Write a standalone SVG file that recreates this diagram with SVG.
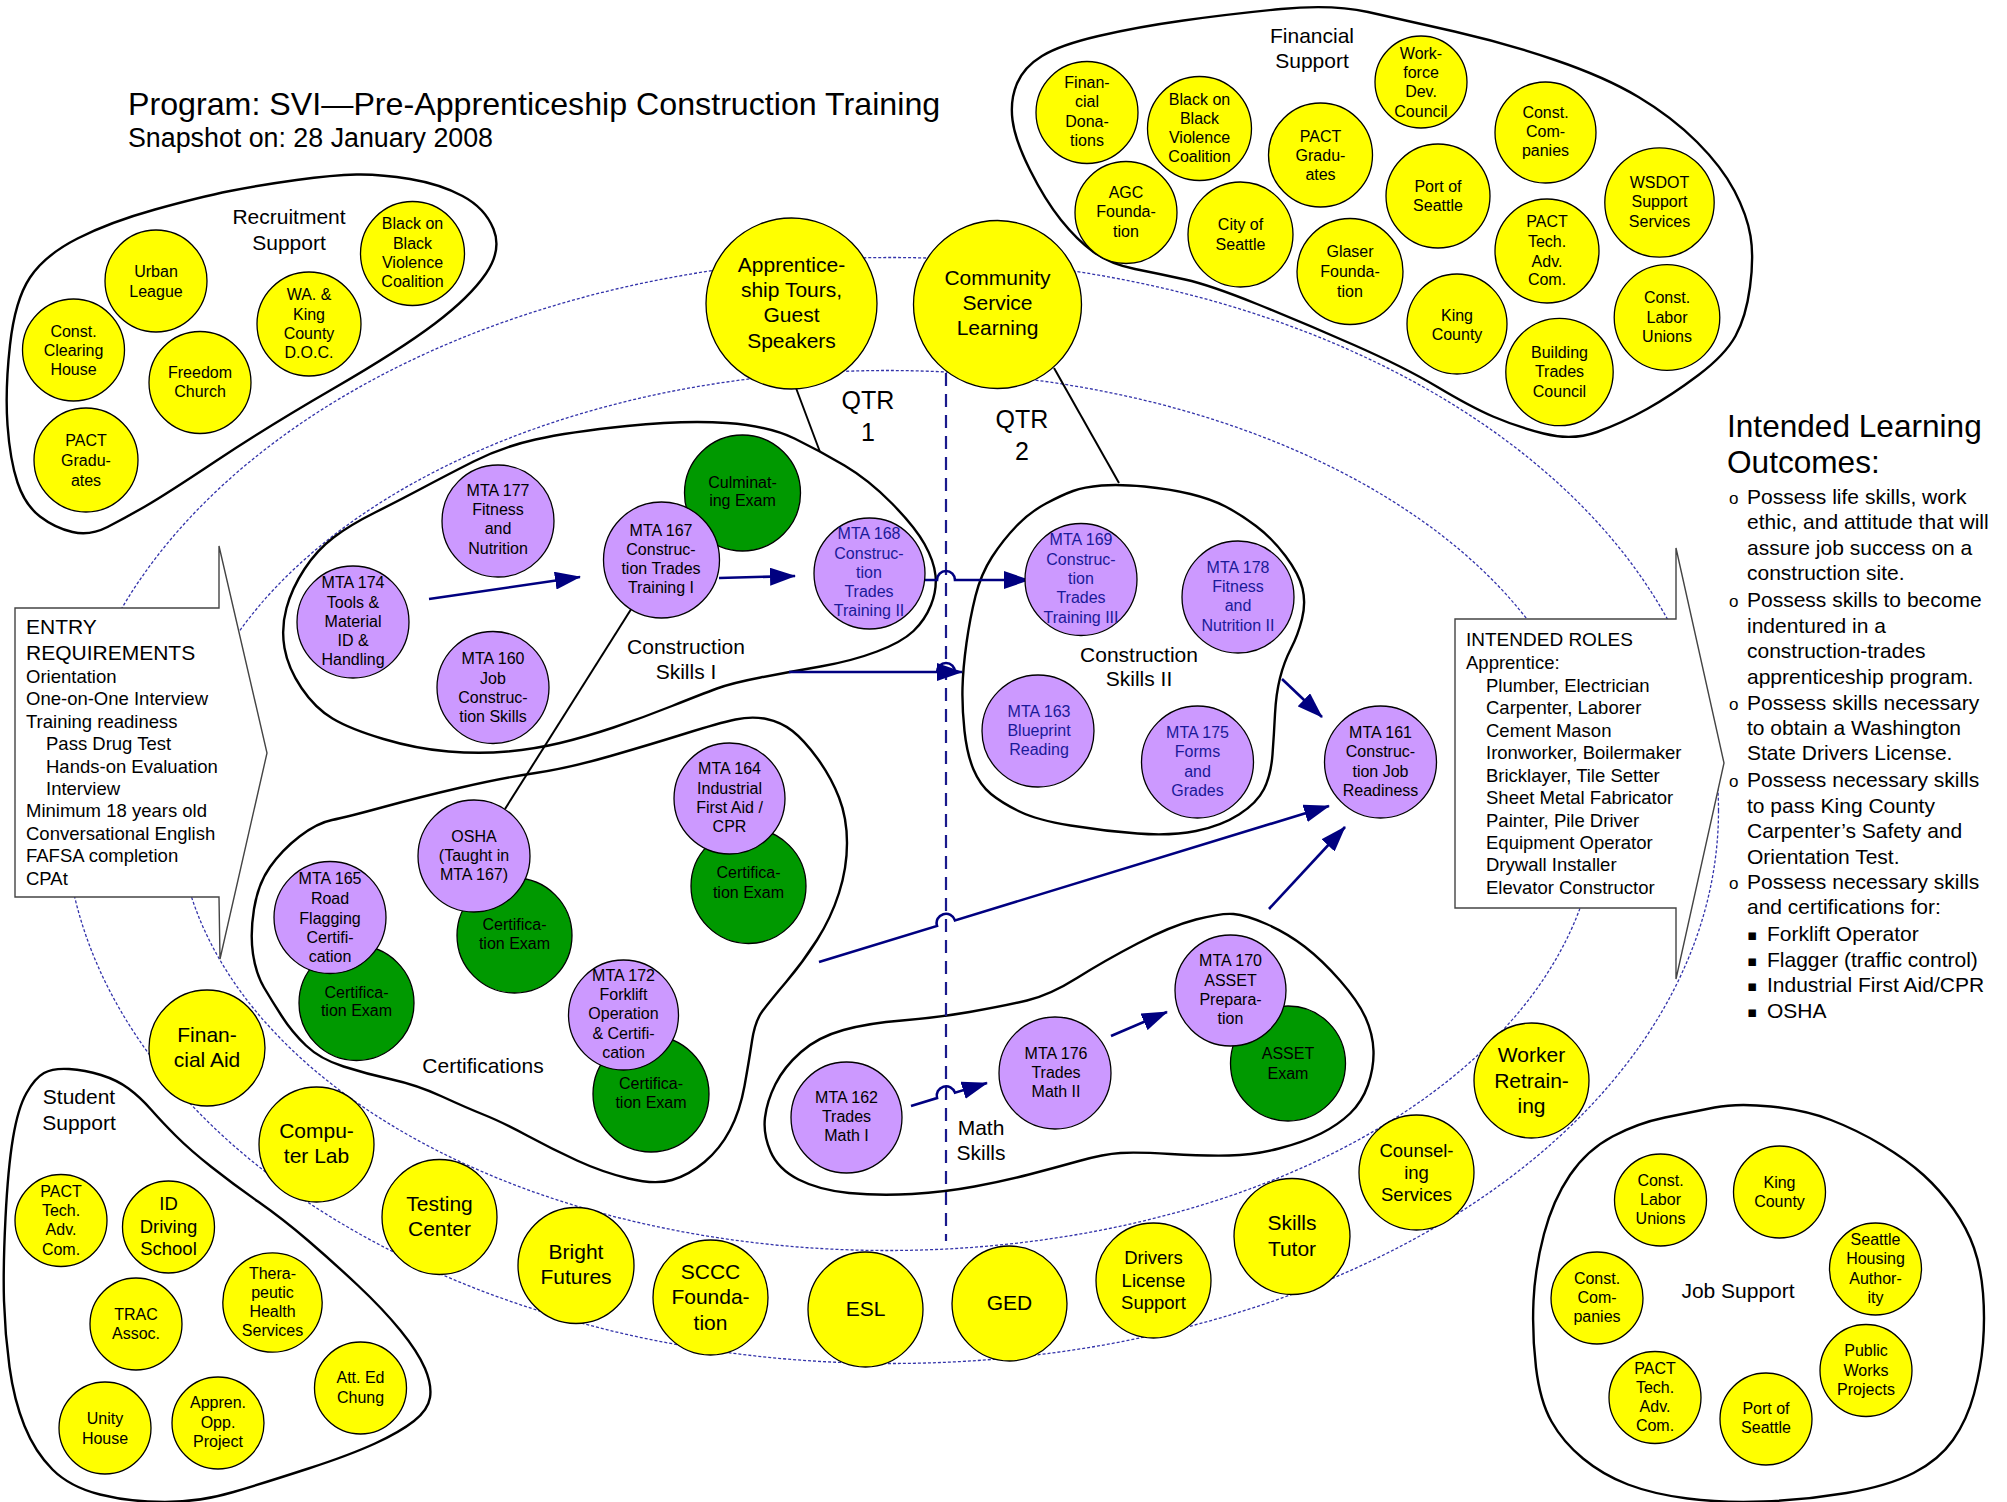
<svg xmlns="http://www.w3.org/2000/svg" width="2007" height="1502" viewBox="0 0 2007 1502">
<defs>
<style>
.yc{fill:#ffff00;stroke:#000;stroke-width:1.3}
.pc{fill:#cc99ff;stroke:#000;stroke-width:1.3}
.gc{fill:#009900;stroke:#000;stroke-width:1.3}
.blob{fill:none;stroke:#000;stroke-width:2.4}
.ell{fill:none;stroke:#3333aa;stroke-width:1.3;stroke-dasharray:3 2}
.arr{fill:none;stroke:#000080;stroke-width:2.6;marker-end:url(#ah)}
.ln{fill:none;stroke:#000;stroke-width:2}
.call{fill:#fff;stroke:#444;stroke-width:1.4}
text{font-family:"Liberation Sans",Arial,sans-serif;fill:#000}
.s{font-size:16px;text-anchor:middle}
.m{font-size:21px;text-anchor:middle}
.m2{font-size:18.5px;text-anchor:middle}
.b{fill:#1a1a99}
.lt{font-size:18.5px}
.ot{font-size:21px}
</style>
<marker id="ah" markerUnits="userSpaceOnUse" markerWidth="26" markerHeight="18" refX="25" refY="9" orient="auto"><path d="M0,0 L26,9 L0,18 Z" fill="#000080"/></marker>
</defs>
<rect width="2007" height="1502" fill="#fff"/>

<g id="title">
<text x="128" y="115" style="font-size:32.2px">Program: SVI—Pre-Apprenticeship Construction Training</text>
<text x="128" y="147" style="font-size:26.8px">Snapshot on: 28 January 2008</text>
</g>

<g id="rings">
<ellipse class="ell" cx="891.5" cy="810.5" rx="827" ry="553"/>
<ellipse class="ell" cx="887.7" cy="810.5" rx="710" ry="440"/>
</g>

<g id="blobs">
<path id="blob-recruit" class="blob" d="M30,277.5 Q15,300 10,345 Q5,390 7.5,425 Q10,460 17.5,482.5 Q25,505 40,516.5 Q55,528 72.5,532 Q90,536 107.5,527 Q125,518 145,506.5 Q165,495 216,461 Q267,427 333.5,388.5 Q400,350 435,323.5 Q470,297 486,273.5 Q502,250 493.5,229 Q485,208 462.5,196 Q440,184 410,179 Q380,174 356.5,174.5 Q333,175 296.5,180 Q260,185 230,191 Q200,197 155,209.5 Q110,222 77.5,238.5 Q45,255 30,277.5 Z"/>
<path id="blob-financial" class="blob" d="M1368,12 Q1332,4 1281,9 Q1230,14 1183.5,20.5 Q1137,27 1098.5,36 Q1060,45 1042,56 Q1024,67 1017,83.5 Q1010,100 1012.5,120 Q1015,140 1030,170 Q1045,200 1061,220 Q1077,240 1093.5,252 Q1110,264 1135,269 Q1160,274 1185,279.5 Q1210,285 1257,304 Q1304,323 1354,345 Q1404,367 1437.5,387 Q1471,407 1493,416.5 Q1515,426 1543.5,433.5 Q1572,441 1597,432 Q1622,423 1647,409 Q1672,395 1698.5,375 Q1725,355 1735.5,336 Q1746,317 1750,287 Q1754,257 1750.5,236 Q1747,215 1734.5,191 Q1722,167 1697,142 Q1672,117 1638.5,97 Q1605,77 1555,60 Q1505,43 1454.5,31.5 Q1404,20 1368,12 Z"/>
<path id="blob-cs1" class="blob" d="M473.5,461.5 Q502,447 535.5,439.5 Q569,432 627,426 Q685,420 727,423 Q769,426 794.5,438.5 Q820,451 844.5,465.5 Q869,480 892,503.5 Q915,527 924.5,544 Q934,561 935.5,575.5 Q937,590 931,605 Q925,620 913.5,631 Q902,642 877,651.5 Q852,661 820.5,666.5 Q789,672 760.5,677.5 Q732,683 717,688.5 Q702,694 672,706 Q642,718 613.5,727.5 Q585,737 560,743 Q535,749 507.5,751.5 Q480,754 448.5,751.5 Q417,749 383.5,739 Q350,729 332.5,718.5 Q315,708 301.5,688 Q288,668 284.5,648 Q281,628 286.5,608 Q292,588 304.5,569 Q317,550 333.5,537.5 Q350,525 375,512.5 Q400,500 422.5,488 Q445,476 473.5,461.5 Z"/>
<path id="blob-cs2" class="blob" d="M1073,491 Q1084,487 1101.5,485.5 Q1119,484 1144.5,486.5 Q1170,489 1190.5,494 Q1211,499 1225.5,506.5 Q1240,514 1256,526 Q1272,538 1285.5,556 Q1299,574 1302.5,588.5 Q1306,603 1302,619 Q1298,635 1291,648.5 Q1284,662 1280,678 Q1276,694 1275,714 Q1274,734 1272.5,754.5 Q1271,775 1264,789 Q1257,803 1239,814.5 Q1221,826 1196,831 Q1171,836 1137.5,833.5 Q1104,831 1070.5,825.5 Q1037,820 1019.5,811.5 Q1002,803 991,794 Q980,785 973.5,769.5 Q967,754 964.5,731 Q962,708 962.5,688 Q963,668 966.5,643 Q970,618 975.5,596 Q981,574 992,557 Q1003,540 1016.5,526 Q1030,512 1046,503.5 Q1062,495 1073,491 Z"/>
<path id="blob-cert" class="blob" d="M461,787.5 Q502,778 535.5,773 Q569,768 610.5,756 Q652,744 685.5,733.5 Q719,723 735.5,719.5 Q752,716 766.5,719 Q781,722 792.5,731 Q804,740 817.5,758.5 Q831,777 839,797.5 Q847,818 847,843 Q847,868 839,893 Q831,918 817,940 Q803,962 786.5,981.5 Q770,1001 762.5,1011 Q755,1021 752,1041 Q749,1061 744.5,1086 Q740,1111 730,1130 Q720,1149 704.5,1162 Q689,1175 672,1180 Q655,1185 628.5,1178.5 Q602,1172 577,1160.5 Q552,1149 527,1135.5 Q502,1122 484.5,1115 Q467,1108 442,1096.5 Q417,1085 392,1079.5 Q367,1074 343.5,1066.5 Q320,1059 306,1045.5 Q292,1032 282,1016.5 Q272,1001 264,987.5 Q256,974 253,954 Q250,934 254,909 Q258,884 270,867 Q282,850 299.5,836.5 Q317,823 332,820 Q347,817 383.5,807 Q420,797 461,787.5 Z"/>
<path id="blob-math" class="blob" d="M969.5,1012 Q1004,1006 1027,1000.5 Q1050,995 1077,978 Q1104,961 1137.5,943.5 Q1171,926 1196,919.5 Q1221,913 1233.5,914 Q1246,915 1266.5,924 Q1287,933 1304.5,946.5 Q1322,960 1340,980.5 Q1358,1001 1365.5,1017.5 Q1373,1034 1373.5,1051 Q1374,1068 1368,1085 Q1362,1102 1350,1113.5 Q1338,1125 1321,1133.5 Q1304,1142 1279,1148.5 Q1254,1155 1229,1155.5 Q1204,1156 1170.5,1154 Q1137,1152 1120.5,1153 Q1104,1154 1079,1161 Q1054,1168 1029,1174.5 Q1004,1181 974.5,1186.5 Q945,1192 912,1194 Q879,1196 849,1193 Q819,1190 798.5,1179.5 Q778,1169 770.5,1151.5 Q763,1134 765,1117.5 Q767,1101 775.5,1084 Q784,1067 801,1052 Q818,1037 843.5,1030 Q869,1023 902,1020.5 Q935,1018 969.5,1012 Z"/>
<path id="blob-student" class="blob" d="M26.5,1093 Q35,1078 44,1073 Q53,1068 69,1069 Q85,1070 101,1075 Q117,1080 128.5,1088.5 Q140,1097 151,1109.5 Q162,1122 176,1136 Q190,1150 211.5,1167 Q233,1184 258,1201.5 Q283,1219 308,1240.5 Q333,1262 358,1285.5 Q383,1309 400.5,1330.5 Q418,1352 425,1368.5 Q432,1385 430,1397.5 Q428,1410 414,1421 Q400,1432 375,1443.5 Q350,1455 308.5,1468.5 Q267,1482 233.5,1492 Q200,1502 165,1502 Q130,1502 100,1494.5 Q70,1487 52.5,1469.5 Q35,1452 24.5,1426 Q14,1400 9.5,1367 Q5,1334 4,1301 Q3,1268 5.5,1218 Q8,1168 13,1138 Q18,1108 26.5,1093 Z"/>
<path id="blob-job" class="blob" d="M1714.5,1107.5 Q1737,1103 1771,1106.5 Q1805,1110 1831,1120 Q1857,1130 1882,1145 Q1907,1160 1923.5,1175 Q1940,1190 1953.5,1209 Q1967,1228 1974,1248 Q1981,1268 1983,1293 Q1985,1318 1983,1343 Q1981,1368 1974,1394 Q1967,1420 1953,1440 Q1939,1460 1913.5,1473 Q1888,1486 1846.5,1493 Q1805,1500 1763.5,1501.5 Q1722,1503 1687.5,1498.5 Q1653,1494 1628,1484.5 Q1603,1475 1583,1458.5 Q1563,1442 1551.5,1421.5 Q1540,1401 1536,1367.5 Q1532,1334 1533.5,1301 Q1535,1268 1544,1234 Q1553,1200 1570,1175 Q1587,1150 1612.5,1136.5 Q1638,1123 1665,1117.5 Q1692,1112 1714.5,1107.5 Z"/>
</g>

<g id="connectors">
<path id="qtr-divider" d="M946,373 L946,1241" fill="none" stroke="#1a1a8c" stroke-width="2.2" stroke-dasharray="13 8"/>
<path class="ln" d="M796,388 L820,452"/>
<path class="ln" d="M1054,368 L1119,483"/>
<path class="ln" d="M635,603 L505,809"/>
<path class="arr" d="M429,599 L580,577"/>
<path class="arr" d="M719,578 L795,576"/>
<path class="arr" d="M917,580 L937,580 A9,9 0 0 1 955,580 L1029,580"/>
<path class="arr" d="M789,672 L937,672 A9,9 0 0 1 955,672 L962,672"/>
<path class="arr" d="M1282,679 L1322,717"/>
<path class="arr" d="M819,962 L937,925.9 A9.4,9.4 0 0 1 955,920.4 L1329,806"/>
<path class="arr" d="M1269,909 L1345,827"/>
<path class="arr" d="M911,1106 L937,1098.1 A9.4,9.4 0 0 1 955,1092.7 L987,1083"/>
<path class="arr" d="M1111,1036 L1167,1012"/>
</g>

<g id="labels">
<text class="m"><tspan x="289" y="224">Recruitment</tspan><tspan x="289" y="250">Support</tspan></text>
<text class="m"><tspan x="1312" y="43">Financial</tspan><tspan x="1312" y="68">Support</tspan></text>
<text class="m"><tspan x="79" y="1104">Student</tspan><tspan x="79" y="1130">Support</tspan></text>
<text class="m" x="1738" y="1298">Job Support</text>
<text class="m"><tspan x="686" y="654">Construction</tspan><tspan x="686" y="679">Skills I</tspan></text>
<text class="m"><tspan x="1139" y="662">Construction</tspan><tspan x="1139" y="686">Skills II</tspan></text>
<text class="m" x="483" y="1073">Certifications</text>
<text class="m"><tspan x="981" y="1135">Math</tspan><tspan x="981" y="1160">Skills</tspan></text>
<text class="m" style="font-size:25px"><tspan x="868" y="409">QTR</tspan><tspan x="868" y="441">1</tspan></text>
<text class="m" style="font-size:25px"><tspan x="1022" y="428">QTR</tspan><tspan x="1022" y="460">2</tspan></text>
</g>

<g id="recruitment-nodes">
<g id="r-urban"><circle class="yc" cx="156" cy="281" r="51"/><text class="s"><tspan x="156" y="277">Urban</tspan><tspan x="156" y="297">League</tspan></text></g>
<g id="r-cch"><circle class="yc" cx="73.5" cy="350" r="51"/><text class="s"><tspan x="73.5" y="337">Const.</tspan><tspan x="73.5" y="356">Clearing</tspan><tspan x="73.5" y="375">House</tspan></text></g>
<g id="r-freedom"><circle class="yc" cx="200" cy="382.5" r="51"/><text class="s"><tspan x="200" y="378">Freedom</tspan><tspan x="200" y="397">Church</tspan></text></g>
<g id="r-doc"><circle class="yc" cx="309" cy="324" r="52"/><text class="s"><tspan x="309" y="300">WA. &amp;</tspan><tspan x="309" y="320">King</tspan><tspan x="309" y="339">County</tspan><tspan x="309" y="358">D.O.C.</tspan></text></g>
<g id="r-bobvc"><circle class="yc" cx="412.5" cy="253.5" r="52"/><text class="s"><tspan x="412.5" y="229">Black on</tspan><tspan x="412.5" y="249">Black</tspan><tspan x="412.5" y="268">Violence</tspan><tspan x="412.5" y="287">Coalition</tspan></text></g>
<g id="r-pact"><circle class="yc" cx="86" cy="460" r="52"/><text class="s"><tspan x="86" y="446">PACT</tspan><tspan x="86" y="466">Gradu-</tspan><tspan x="86" y="486">ates</tspan></text></g>
</g>

<g id="financial-nodes">
<g id="f-donations"><circle class="yc" cx="1087" cy="112.5" r="51"/><text class="s"><tspan x="1087" y="88">Finan-</tspan><tspan x="1087" y="107">cial</tspan><tspan x="1087" y="127">Dona-</tspan><tspan x="1087" y="146">tions</tspan></text></g>
<g id="f-bobvc"><circle class="yc" cx="1199.5" cy="128.5" r="52"/><text class="s"><tspan x="1199.5" y="105">Black on</tspan><tspan x="1199.5" y="124">Black</tspan><tspan x="1199.5" y="143">Violence</tspan><tspan x="1199.5" y="162">Coalition</tspan></text></g>
<g id="f-agc"><circle class="yc" cx="1126" cy="212.5" r="51"/><text class="s"><tspan x="1126" y="198">AGC</tspan><tspan x="1126" y="217">Founda-</tspan><tspan x="1126" y="237">tion</tspan></text></g>
<g id="f-city"><circle class="yc" cx="1240.5" cy="234.5" r="52.5"/><text class="s"><tspan x="1240.5" y="230">City of</tspan><tspan x="1240.5" y="250">Seattle</tspan></text></g>
<g id="f-pact"><circle class="yc" cx="1320.5" cy="155" r="52"/><text class="s"><tspan x="1320.5" y="142">PACT</tspan><tspan x="1320.5" y="161">Gradu-</tspan><tspan x="1320.5" y="180">ates</tspan></text></g>
<g id="f-glaser"><circle class="yc" cx="1350" cy="271.5" r="53"/><text class="s"><tspan x="1350" y="257">Glaser</tspan><tspan x="1350" y="277">Founda-</tspan><tspan x="1350" y="297">tion</tspan></text></g>
<g id="f-wdc"><circle class="yc" cx="1421" cy="82" r="46"/><text class="s"><tspan x="1421" y="59">Work-</tspan><tspan x="1421" y="78">force</tspan><tspan x="1421" y="97">Dev.</tspan><tspan x="1421" y="117">Council</tspan></text></g>
<g id="f-port"><circle class="yc" cx="1438" cy="196" r="52"/><text class="s"><tspan x="1438" y="192">Port of</tspan><tspan x="1438" y="211">Seattle</tspan></text></g>
<g id="f-king"><circle class="yc" cx="1457" cy="324" r="50"/><text class="s"><tspan x="1457" y="321">King</tspan><tspan x="1457" y="340">County</tspan></text></g>
<g id="f-constco"><circle class="yc" cx="1545.5" cy="132.5" r="50.5"/><text class="s"><tspan x="1545.5" y="118">Const.</tspan><tspan x="1545.5" y="137">Com-</tspan><tspan x="1545.5" y="156">panies</tspan></text></g>
<g id="f-pacttac"><circle class="yc" cx="1547" cy="251" r="52"/><text class="s"><tspan x="1547" y="227">PACT</tspan><tspan x="1547" y="247">Tech.</tspan><tspan x="1547" y="267">Adv.</tspan><tspan x="1547" y="285">Com.</tspan></text></g>
<g id="f-btc"><circle class="yc" cx="1559.5" cy="372" r="53.7"/><text class="s"><tspan x="1559.5" y="358">Building</tspan><tspan x="1559.5" y="377">Trades</tspan><tspan x="1559.5" y="397">Council</tspan></text></g>
<g id="f-wsdot"><circle class="yc" cx="1659.5" cy="202.5" r="54.7"/><text class="s"><tspan x="1659.5" y="188">WSDOT</tspan><tspan x="1659.5" y="207">Support</tspan><tspan x="1659.5" y="227">Services</tspan></text></g>
<g id="f-labor"><circle class="yc" cx="1667" cy="317.5" r="52.8"/><text class="s"><tspan x="1667" y="303">Const.</tspan><tspan x="1667" y="323">Labor</tspan><tspan x="1667" y="342">Unions</tspan></text></g>
</g>

<g id="ring-nodes">
<g id="y-tours"><circle class="yc" cx="791.5" cy="303.5" r="85.5"/><text class="m"><tspan x="791.5" y="272">Apprentice-</tspan><tspan x="791.5" y="297">ship Tours,</tspan><tspan x="791.5" y="322">Guest</tspan><tspan x="791.5" y="348">Speakers</tspan></text></g>
<g id="y-csl"><circle class="yc" cx="997.5" cy="304.5" r="84"/><text class="m"><tspan x="997.5" y="285">Community</tspan><tspan x="997.5" y="310">Service</tspan><tspan x="997.5" y="335">Learning</tspan></text></g>
<g id="y-finaid"><circle class="yc" cx="207" cy="1048" r="58"/><text class="m"><tspan x="207" y="1042">Finan-</tspan><tspan x="207" y="1067">cial Aid</tspan></text></g>
<g id="y-complab"><circle class="yc" cx="316.5" cy="1144.5" r="57.5"/><text class="m"><tspan x="316.5" y="1138">Compu-</tspan><tspan x="316.5" y="1163">ter Lab</tspan></text></g>
<g id="y-testing"><circle class="yc" cx="439.5" cy="1217" r="57.5"/><text class="m"><tspan x="439.5" y="1211">Testing</tspan><tspan x="439.5" y="1236">Center</tspan></text></g>
<g id="y-bright"><circle class="yc" cx="576" cy="1265.5" r="58"/><text class="m"><tspan x="576" y="1259">Bright</tspan><tspan x="576" y="1284">Futures</tspan></text></g>
<g id="y-sccc"><circle class="yc" cx="710.5" cy="1297.5" r="57.5"/><text class="m"><tspan x="710.5" y="1279">SCCC</tspan><tspan x="710.5" y="1304">Founda-</tspan><tspan x="710.5" y="1330">tion</tspan></text></g>
<g id="y-esl"><circle class="yc" cx="865.5" cy="1309.5" r="57.5"/><text class="m" x="865.5" y="1316">ESL</text></g>
<g id="y-ged"><circle class="yc" cx="1009.5" cy="1303.5" r="57.5"/><text class="m" x="1009.5" y="1310">GED</text></g>
<g id="y-drivers"><circle class="yc" cx="1153.5" cy="1280.5" r="57.5"/><text class="m2"><tspan x="1153.5" y="1264">Drivers</tspan><tspan x="1153.5" y="1287">License</tspan><tspan x="1153.5" y="1309">Support</tspan></text></g>
<g id="y-skills"><circle class="yc" cx="1292" cy="1236.5" r="58"/><text class="m"><tspan x="1292" y="1230">Skills</tspan><tspan x="1292" y="1256">Tutor</tspan></text></g>
<g id="y-counsel"><circle class="yc" cx="1416.5" cy="1172.5" r="57.5"/><text class="m2"><tspan x="1416.5" y="1157">Counsel-</tspan><tspan x="1416.5" y="1179">ing</tspan><tspan x="1416.5" y="1201">Services</tspan></text></g>
<g id="y-worker"><circle class="yc" cx="1531.5" cy="1080.5" r="57.5"/><text class="m"><tspan x="1531.5" y="1062">Worker</tspan><tspan x="1531.5" y="1088">Retrain-</tspan><tspan x="1531.5" y="1113">ing</tspan></text></g>
</g>

<g id="course-nodes">
<g id="g-culm"><circle class="gc" cx="742.5" cy="493" r="58"/><text class="s"><tspan x="742.5" y="488">Culminat-</tspan><tspan x="742.5" y="506">ing Exam</tspan></text></g>
<g id="p-177"><circle class="pc" cx="498" cy="521" r="56"/><text class="s"><tspan x="498" y="496">MTA 177</tspan><tspan x="498" y="515">Fitness</tspan><tspan x="498" y="534">and</tspan><tspan x="498" y="554">Nutrition</tspan></text></g>
<g id="p-174"><circle class="pc" cx="353" cy="622" r="56"/><text class="s"><tspan x="353" y="588">MTA 174</tspan><tspan x="353" y="608">Tools &amp;</tspan><tspan x="353" y="627">Material</tspan><tspan x="353" y="646">ID &amp;</tspan><tspan x="353" y="665">Handling</tspan></text></g>
<g id="p-160"><circle class="pc" cx="493" cy="687.5" r="56"/><text class="s"><tspan x="493" y="664">MTA 160</tspan><tspan x="493" y="684">Job</tspan><tspan x="493" y="703">Construc-</tspan><tspan x="493" y="722">tion Skills</tspan></text></g>
<g id="p-167"><circle class="pc" cx="661.5" cy="560" r="58"/><text class="s"><tspan x="661" y="536">MTA 167</tspan><tspan x="661" y="555">Construc-</tspan><tspan x="661" y="574">tion Trades</tspan><tspan x="661" y="593">Training I</tspan></text></g>
<g id="p-168"><circle class="pc" cx="869.5" cy="573.5" r="55.5"/><text class="s b"><tspan x="869" y="539">MTA 168</tspan><tspan x="869" y="558.5">Construc-</tspan><tspan x="869" y="578">tion</tspan><tspan x="869" y="597">Trades</tspan><tspan x="869" y="616">Training II</tspan></text></g>
<g id="p-169"><circle class="pc" cx="1081" cy="579.5" r="56"/><text class="s b"><tspan x="1081" y="545">MTA 169</tspan><tspan x="1081" y="565">Construc-</tspan><tspan x="1081" y="584">tion</tspan><tspan x="1081" y="603">Trades</tspan><tspan x="1081" y="623">Training III</tspan></text></g>
<g id="p-178"><circle class="pc" cx="1238" cy="597" r="56"/><text class="s b"><tspan x="1238" y="573">MTA 178</tspan><tspan x="1238" y="592">Fitness</tspan><tspan x="1238" y="611">and</tspan><tspan x="1238" y="631">Nutrition II</tspan></text></g>
<g id="p-163"><circle class="pc" cx="1038" cy="731" r="56"/><text class="s b"><tspan x="1039" y="717">MTA 163</tspan><tspan x="1039" y="736">Blueprint</tspan><tspan x="1039" y="755">Reading</tspan></text></g>
<g id="p-175"><circle class="pc" cx="1197.5" cy="762" r="56"/><text class="s b"><tspan x="1197.5" y="738">MTA 175</tspan><tspan x="1197.5" y="757">Forms</tspan><tspan x="1197.5" y="777">and</tspan><tspan x="1197.5" y="796">Grades</tspan></text></g>
<g id="p-161"><circle class="pc" cx="1380.5" cy="762" r="56"/><text class="s"><tspan x="1380.5" y="738">MTA 161</tspan><tspan x="1380.5" y="757">Construc-</tspan><tspan x="1380.5" y="777">tion Job</tspan><tspan x="1380.5" y="796">Readiness</tspan></text></g>
<g id="g-osha"><circle class="gc" cx="514.5" cy="935.5" r="57.5"/><text class="s"><tspan x="514.5" y="930">Certifica-</tspan><tspan x="514.5" y="949">tion Exam</tspan></text></g>
<g id="p-osha"><circle class="pc" cx="474" cy="856" r="56"/><text class="s"><tspan x="474" y="842">OSHA</tspan><tspan x="474" y="861">(Taught in</tspan><tspan x="474" y="880">MTA 167)</tspan></text></g>
<g id="g-165"><circle class="gc" cx="356.5" cy="1003" r="57.5"/><text class="s"><tspan x="356.5" y="998">Certifica-</tspan><tspan x="356.5" y="1016">tion Exam</tspan></text></g>
<g id="p-165"><circle class="pc" cx="330" cy="917.5" r="56"/><text class="s"><tspan x="330" y="884">MTA 165</tspan><tspan x="330" y="904">Road</tspan><tspan x="330" y="924">Flagging</tspan><tspan x="330" y="943">Certifi-</tspan><tspan x="330" y="962">cation</tspan></text></g>
<g id="g-164"><circle class="gc" cx="748.5" cy="886" r="57.5"/><text class="s"><tspan x="748.5" y="878">Certifica-</tspan><tspan x="748.5" y="898">tion Exam</tspan></text></g>
<g id="p-164"><circle class="pc" cx="729.5" cy="798.5" r="55.5"/><text class="s"><tspan x="729.5" y="774">MTA 164</tspan><tspan x="729.5" y="794">Industrial</tspan><tspan x="729.5" y="813">First Aid /</tspan><tspan x="729.5" y="832">CPR</tspan></text></g>
<g id="g-172"><circle class="gc" cx="651" cy="1094" r="58"/><text class="s"><tspan x="651" y="1089">Certifica-</tspan><tspan x="651" y="1108">tion Exam</tspan></text></g>
<g id="p-172"><circle class="pc" cx="623.5" cy="1015" r="55"/><text class="s"><tspan x="623.5" y="981">MTA 172</tspan><tspan x="623.5" y="1000">Forklift</tspan><tspan x="623.5" y="1019">Operation</tspan><tspan x="623.5" y="1039">&amp; Certifi-</tspan><tspan x="623.5" y="1058">cation</tspan></text></g>
<g id="p-162"><circle class="pc" cx="846.5" cy="1117.5" r="55.5"/><text class="s"><tspan x="846.5" y="1103">MTA 162</tspan><tspan x="846.5" y="1122">Trades</tspan><tspan x="846.5" y="1141">Math I</tspan></text></g>
<g id="p-176"><circle class="pc" cx="1055" cy="1073" r="56"/><text class="s"><tspan x="1056" y="1059">MTA 176</tspan><tspan x="1056" y="1078">Trades</tspan><tspan x="1056" y="1097">Math II</tspan></text></g>
<g id="g-asset"><circle class="gc" cx="1288" cy="1063.5" r="57.5"/><text class="s"><tspan x="1288" y="1059">ASSET</tspan><tspan x="1288" y="1079">Exam</tspan></text></g>
<g id="p-170"><circle class="pc" cx="1230.5" cy="990.5" r="55.5"/><text class="s"><tspan x="1230.5" y="966">MTA 170</tspan><tspan x="1230.5" y="986">ASSET</tspan><tspan x="1230.5" y="1005">Prepara-</tspan><tspan x="1230.5" y="1024">tion</tspan></text></g>
</g>

<g id="student-nodes">
<g id="s-pact"><circle class="yc" cx="61" cy="1220.5" r="46"/><text class="s"><tspan x="61" y="1197">PACT</tspan><tspan x="61" y="1216">Tech.</tspan><tspan x="61" y="1235">Adv.</tspan><tspan x="61" y="1255">Com.</tspan></text></g>
<g id="s-id"><circle class="yc" cx="168.5" cy="1227" r="46"/><text class="m2"><tspan x="168.5" y="1210">ID</tspan><tspan x="168.5" y="1233">Driving</tspan><tspan x="168.5" y="1255">School</tspan></text></g>
<g id="s-trac"><circle class="yc" cx="136" cy="1324" r="46"/><text class="s"><tspan x="136" y="1320">TRAC</tspan><tspan x="136" y="1339">Assoc.</tspan></text></g>
<g id="s-thera"><circle class="yc" cx="272.5" cy="1302.5" r="49.7"/><text class="s"><tspan x="272.5" y="1279">Thera-</tspan><tspan x="272.5" y="1298">peutic</tspan><tspan x="272.5" y="1317">Health</tspan><tspan x="272.5" y="1336">Services</tspan></text></g>
<g id="s-ed"><circle class="yc" cx="360.5" cy="1388" r="46"/><text class="s"><tspan x="360.5" y="1383">Att. Ed</tspan><tspan x="360.5" y="1403">Chung</tspan></text></g>
<g id="s-unity"><circle class="yc" cx="105" cy="1428" r="46"/><text class="s"><tspan x="105" y="1424">Unity</tspan><tspan x="105" y="1444">House</tspan></text></g>
<g id="s-appren"><circle class="yc" cx="218" cy="1423" r="46"/><text class="s"><tspan x="218" y="1408">Appren.</tspan><tspan x="218" y="1428">Opp.</tspan><tspan x="218" y="1447">Project</tspan></text></g>
</g>

<g id="job-nodes">
<g id="j-labor"><circle class="yc" cx="1660.5" cy="1200" r="46"/><text class="s"><tspan x="1660.5" y="1186">Const.</tspan><tspan x="1660.5" y="1205">Labor</tspan><tspan x="1660.5" y="1224">Unions</tspan></text></g>
<g id="j-king"><circle class="yc" cx="1779.5" cy="1192" r="46"/><text class="s"><tspan x="1779.5" y="1188">King</tspan><tspan x="1779.5" y="1207">County</tspan></text></g>
<g id="j-sha"><circle class="yc" cx="1875.5" cy="1269" r="46"/><text class="s"><tspan x="1875.5" y="1245">Seattle</tspan><tspan x="1875.5" y="1264">Housing</tspan><tspan x="1875.5" y="1284">Author-</tspan><tspan x="1875.5" y="1303">ity</tspan></text></g>
<g id="j-constco"><circle class="yc" cx="1597" cy="1298" r="46"/><text class="s"><tspan x="1597" y="1284">Const.</tspan><tspan x="1597" y="1303">Com-</tspan><tspan x="1597" y="1322">panies</tspan></text></g>
<g id="j-public"><circle class="yc" cx="1866" cy="1370.5" r="46"/><text class="s"><tspan x="1866" y="1356">Public</tspan><tspan x="1866" y="1376">Works</tspan><tspan x="1866" y="1395">Projects</tspan></text></g>
<g id="j-pact"><circle class="yc" cx="1655" cy="1397.5" r="46"/><text class="s"><tspan x="1655" y="1374">PACT</tspan><tspan x="1655" y="1393">Tech.</tspan><tspan x="1655" y="1412">Adv.</tspan><tspan x="1655" y="1431">Com.</tspan></text></g>
<g id="j-port"><circle class="yc" cx="1766" cy="1419" r="46"/><text class="s"><tspan x="1766" y="1414">Port of</tspan><tspan x="1766" y="1433">Seattle</tspan></text></g>
</g>

<g id="entry-requirements">
<path class="call" d="M15,608 H219 V546 L267,753 L220,959 L219,897 H15 Z"/>
<text style="font-size:21px"><tspan x="26" y="634">ENTRY</tspan><tspan x="26" y="660">REQUIREMENTS</tspan></text>
<text class="lt"><tspan x="26" y="683">Orientation</tspan><tspan x="26" y="705">One-on-One Interview</tspan><tspan x="26" y="728">Training readiness</tspan><tspan x="46" y="750">Pass Drug Test</tspan><tspan x="46" y="773">Hands-on Evaluation</tspan><tspan x="46" y="795">Interview</tspan><tspan x="26" y="817">Minimum 18 years old</tspan><tspan x="26" y="840">Conversational English</tspan><tspan x="26" y="862">FAFSA completion</tspan><tspan x="26" y="885">CPAt</tspan></text>
</g>

<g id="intended-roles">
<path class="call" d="M1455,619 H1676 V548 L1724,763 L1676,979 V908 H1455 Z"/>
<text x="1466" y="646" style="font-size:19px">INTENDED ROLES</text>
<text class="lt"><tspan x="1466" y="669">Apprentice:</tspan><tspan x="1486" y="692">Plumber, Electrician</tspan><tspan x="1486" y="714">Carpenter, Laborer</tspan><tspan x="1486" y="737">Cement Mason</tspan><tspan x="1486" y="759">Ironworker, Boilermaker</tspan><tspan x="1486" y="782">Bricklayer, Tile Setter</tspan><tspan x="1486" y="804">Sheet Metal Fabricator</tspan><tspan x="1486" y="827">Painter, Pile Driver</tspan><tspan x="1486" y="849">Equipment Operator</tspan><tspan x="1486" y="871">Drywall Installer</tspan><tspan x="1486" y="894">Elevator Constructor</tspan></text>
</g>

<g id="outcomes">
<text style="font-size:31.6px"><tspan x="1727" y="437">Intended Learning</tspan><tspan x="1727" y="473">Outcomes:</tspan></text>
<text style="font-size:17px"><tspan x="1729" y="504">o</tspan><tspan x="1729" y="607">o</tspan><tspan x="1729" y="710">o</tspan><tspan x="1729" y="787">o</tspan><tspan x="1729" y="889">o</tspan></text>
<text style="font-size:15px;font-family:'DejaVu Sans',sans-serif"><tspan x="1747" y="940">▪</tspan><tspan x="1747" y="966">▪</tspan><tspan x="1747" y="991">▪</tspan><tspan x="1747" y="1017">▪</tspan></text>
<text class="ot"><tspan x="1747" y="504">Possess life skills, work</tspan><tspan x="1747" y="529">ethic, and attitude that will</tspan><tspan x="1747" y="555">assure job success on a</tspan><tspan x="1747" y="580">construction site.</tspan><tspan x="1747" y="607">Possess skills to become</tspan><tspan x="1747" y="633">indentured in a</tspan><tspan x="1747" y="658">construction-trades</tspan><tspan x="1747" y="684">apprenticeship program.</tspan><tspan x="1747" y="710">Possess skills necessary</tspan><tspan x="1747" y="735">to obtain a Washington</tspan><tspan x="1747" y="760">State Drivers License.</tspan><tspan x="1747" y="787">Possess necessary skills</tspan><tspan x="1747" y="813">to pass King County</tspan><tspan x="1747" y="838">Carpenter’s Safety and</tspan><tspan x="1747" y="864">Orientation Test.</tspan><tspan x="1747" y="889">Possess necessary skills</tspan><tspan x="1747" y="914">and certifications for:</tspan><tspan x="1767" y="941">Forklift Operator</tspan><tspan x="1767" y="967">Flagger (traffic control)</tspan><tspan x="1767" y="992">Industrial First Aid/CPR</tspan><tspan x="1767" y="1018">OSHA</tspan></text>
</g>
</svg>
